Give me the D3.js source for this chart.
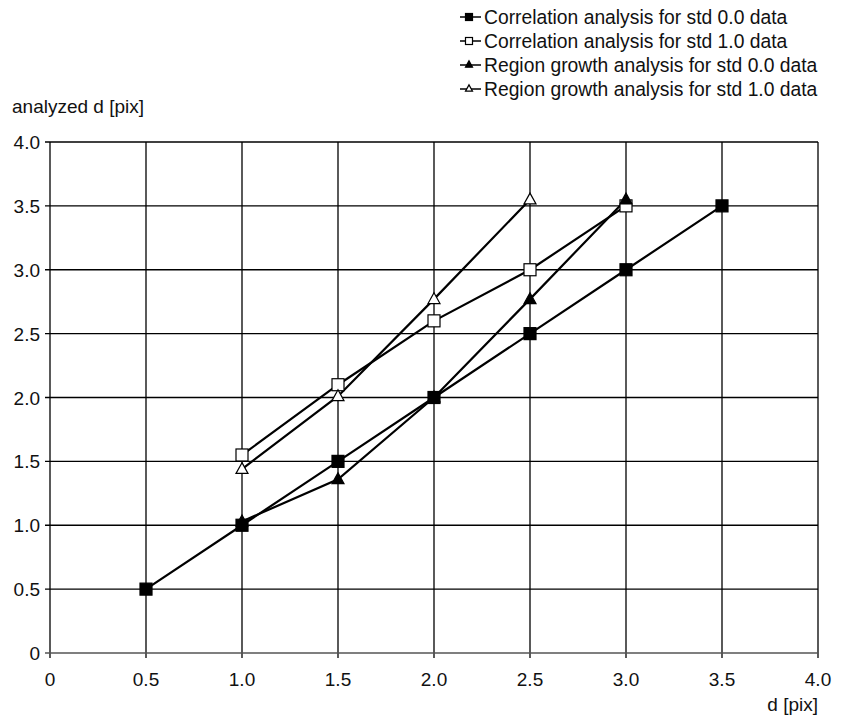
<!DOCTYPE html>
<html>
<head>
<meta charset="utf-8">
<script src="https://d3js.org/d3.v7.min.js"></script>
<style>
  body { margin: 0; background: #fff; }
  text { font-family: "Liberation Sans", Arial, sans-serif; fill: #111; }
</style>
</head>
<body>
<div id="chart"></div>
<script>
// data
var xTicks = [0, 0.5, 1.0, 1.5, 2.0, 2.5, 3.0, 3.5, 4.0];
var yTicks = [0, 0.5, 1.0, 1.5, 2.0, 2.5, 3.0, 3.5, 4.0];

var corrStd0 = [[0.5, 0.5], [1.0, 1.0], [1.5, 1.5], [2.0, 2.0], [2.5, 2.5], [3.0, 3.0], [3.5, 3.5]];
var corrStd1 = [[1.0, 1.55], [1.5, 2.1], [2.0, 2.6], [2.5, 3.0], [3.0, 3.5]];
var regStd0 = [[1.0, 1.03], [1.5, 1.36], [2.0, 2.0], [2.5, 2.77], [3.0, 3.55]];
var regStd1 = [[1.0, 1.44], [1.5, 2.01], [2.0, 2.77], [2.5, 3.55]];

var seriesNames = [
    "Correlation analysis for std 0.0 data",
    "Correlation analysis for std 1.0 data",
    "Region growth analysis for std 0.0 data",
    "Region growth analysis for std 1.0 data"
];

var series = [
    {name: seriesNames[0], data: corrStd0, shape: "square", fill: "#000"},
    {name: seriesNames[1], data: corrStd1, shape: "square", fill: "#fff"},
    {name: seriesNames[2], data: regStd0, shape: "triangle", fill: "#000"},
    {name: seriesNames[3], data: regStd1, shape: "triangle", fill: "#fff"}
];

var width = 850, height = 715;
var margin = {left: 50, right: 32, top: 142, bottom: 62};
var fontSize = "19px";

var svg = d3.select("#chart").append("svg")
    .attr("width", width)
    .attr("height", height);

var x = d3.scaleLinear().domain([0, 4]).range([margin.left, width - margin.right]);
var y = d3.scaleLinear().domain([0, 4]).range([height - margin.bottom, margin.top]);

function tickFmt(d) { return d === 0 ? "0" : d3.format(".1f")(d); }

// horizontal grid lines (they stick out left as ticks)
svg.append("g").selectAll("line").data(yTicks.slice(1)).enter().append("line")
    .attr("x1", x(0) - 5).attr("x2", x(4))
    .attr("y1", function (d) { return y(d); }).attr("y2", function (d) { return y(d); })
    .style("stroke", "#000").attr("stroke-width", 1.3);

// vertical grid lines (they stick out below as ticks)
svg.append("g").selectAll("line").data(xTicks).enter().append("line")
    .attr("x1", function (d) { return x(d); }).attr("x2", function (d) { return x(d); })
    .attr("y1", y(4)).attr("y2", y(0) + 5)
    .style("stroke", "#000").attr("stroke-width", 1.3);

// bottom axis line
svg.append("line")
    .attr("x1", x(0) - 5).attr("x2", x(4))
    .attr("y1", y(0)).attr("y2", y(0))
    .style("stroke", "#555").attr("stroke-width", 1.5);

// tick labels
svg.append("g").selectAll("text").data(yTicks).enter().append("text")
    .attr("x", x(0) - 10).attr("y", function (d) { return y(d) + 7; })
    .attr("text-anchor", "end").style("font-size", fontSize)
    .text(tickFmt);

svg.append("g").selectAll("text").data(xTicks).enter().append("text")
    .attr("x", function (d) { return x(d); }).attr("y", y(0) + 33)
    .attr("text-anchor", "middle").style("font-size", fontSize)
    .text(tickFmt);

// axis titles
svg.append("text").attr("x", 12).attr("y", 113)
    .style("font-size", fontSize).text("analyzed d [pix]");
svg.append("text").attr("x", x(4)).attr("y", 711)
    .attr("text-anchor", "end").style("font-size", fontSize).text("d [pix]");

var line = d3.line()
    .x(function (d) { return x(d[0]); })
    .y(function (d) { return y(d[1]); });

function marker(g, shape, fill, size) {
    if (shape === "square") {
        g.append("rect")
            .attr("x", -size / 2).attr("y", -size / 2)
            .attr("width", size).attr("height", size)
            .attr("fill", fill).style("stroke", "#000").attr("stroke-width", 1.2);
    } else {
        var h = size * 0.9;
        g.append("path")
            .attr("d", "M0," + (-h / 2 - 1) + "L" + (size / 2) + "," + (h / 2 - 1) + "L" + (-size / 2) + "," + (h / 2 - 1) + "Z")
            .attr("fill", fill).style("stroke", "#000").attr("stroke-width", 1.2);
    }
}

series.forEach(function (s) {
    svg.append("path").datum(s.data)
        .attr("d", line)
        .attr("fill", "none").style("stroke", "#000").attr("stroke-width", 2.2);
});

series.forEach(function (s) {
    s.data.forEach(function (d) {
        var g = svg.append("g").attr("transform", "translate(" + x(d[0]) + "," + y(d[1]) + ")");
        marker(g, s.shape, s.fill, 12);
    });
});

// legend
var legend = svg.append("g").attr("transform", "translate(460,17)");
series.forEach(function (s, i) {
    var row = legend.append("g").attr("transform", "translate(0," + (i * 24) + ")");
    row.append("line").attr("x1", 0).attr("x2", 21).attr("y1", 0).attr("y2", 0)
        .style("stroke", "#000").attr("stroke-width", 1.5);
    marker(row.append("g").attr("transform", "translate(9,0)"), s.shape, s.fill, 7);
    row.append("text").attr("x", 24).attr("y", 7)
        .style("font-size", "19.3px").text(s.name);
});
</script>
</body>
</html>
